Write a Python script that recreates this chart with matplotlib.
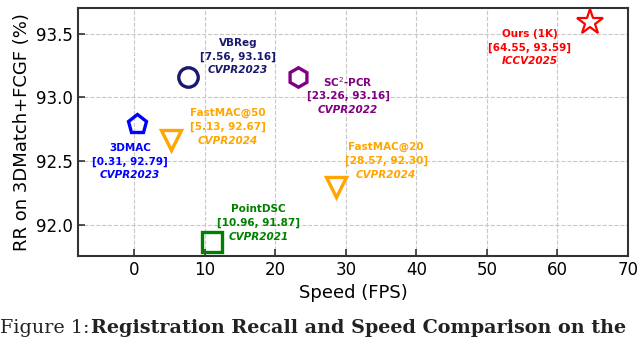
import matplotlib
matplotlib.use("Agg")
import matplotlib.pyplot as plt

# Data: speed (FPS) vs registration recall (%)
methods = ['3DMAC', 'VBReg', 'FastMAC@50', 'SC$^2$-PCR', 'PointDSC', 'FastMAC@20', 'Ours (1K)']
venues = ['CVPR2023', 'CVPR2023', 'CVPR2024', 'CVPR2022', 'CVPR2021', 'CVPR2024', 'ICCV2025']
speed = [0.31, 7.56, 5.13, 23.26, 10.96, 28.57, 64.55]
recall = [92.79, 93.16, 92.67, 93.16, 91.87, 92.30, 93.59]
markers = ['p', 'o', 'v', 'h', 's', 'v', '*']
colors = ['#0000ff', '#191970', '#ffa500', '#800080', '#008000', '#ffa500', '#ff0000']
# label centres (data coords)
label_x = [-0.6, 14.7, 13.3, 30.3, 17.6, 35.7, 56.1]
label_y = [92.50, 93.32, 92.77, 93.01, 92.02, 92.505, 93.39]

fig = plt.figure(figsize=(6.4, 3.38), dpi=100)
ax = fig.add_axes([78 / 640, 1 - 256 / 338, (628 - 78) / 640, (256 - 8) / 338])

for i in range(len(methods)):
    if markers[i] == '*':
        ms, mew = 19, 1.6
    else:
        ms, mew = 14, 2.4
    ax.plot(speed[i], recall[i], marker=markers[i], markersize=ms,
            markerfacecolor='none', markeredgecolor=colors[i],
            markeredgewidth=mew, linestyle='none', zorder=3)
    ax.text(label_x[i], label_y[i] + 0.108, methods[i], color=colors[i],
            ha='center', va='center', fontsize=7.5, fontweight='bold')
    ax.text(label_x[i], label_y[i], f'[{speed[i]:.2f}, {recall[i]:.2f}]', color=colors[i],
            ha='center', va='center', fontsize=7.5, fontweight='bold')
    ax.text(label_x[i], label_y[i] - 0.108, venues[i], color=colors[i],
            ha='center', va='center', fontsize=7.5, fontweight='bold', style='italic')

ax.set_xlim(-8, 70)
ax.set_ylim(91.76, 93.7)
ax.set_xticks([0, 10, 20, 30, 40, 50, 60, 70])
ax.set_yticks([92.0, 92.5, 93.0, 93.5])
ax.set_yticklabels(['92.0', '92.5', '93.0', '93.5'])
ax.tick_params(direction='in', labelsize=12, length=5, width=1.2, color='#333333')
ax.grid(True, linestyle='--', color='#c8c8c8', linewidth=0.8)
ax.set_axisbelow(True)
for s in ax.spines.values():
    s.set_linewidth(1.5)
    s.set_color('#333333')
ax.set_xlabel('Speed (FPS)', fontsize=13)
ax.set_ylabel('RR on 3DMatch+FCGF (%)', fontsize=13)

# caption line under the figure (kept fully inside the image)
cap_y = 1 / 338
fig.text(0.0, cap_y, 'Figure 1: ', fontsize=13.8, family='DejaVu Serif', va='bottom', color='#222222')
fig.text(0.142, cap_y, 'Registration Recall and Speed Comparison on the', fontsize=13.8,
         family='DejaVu Serif', fontweight='bold', va='bottom', color='#222222')

fig.savefig('out.png', dpi=100)
